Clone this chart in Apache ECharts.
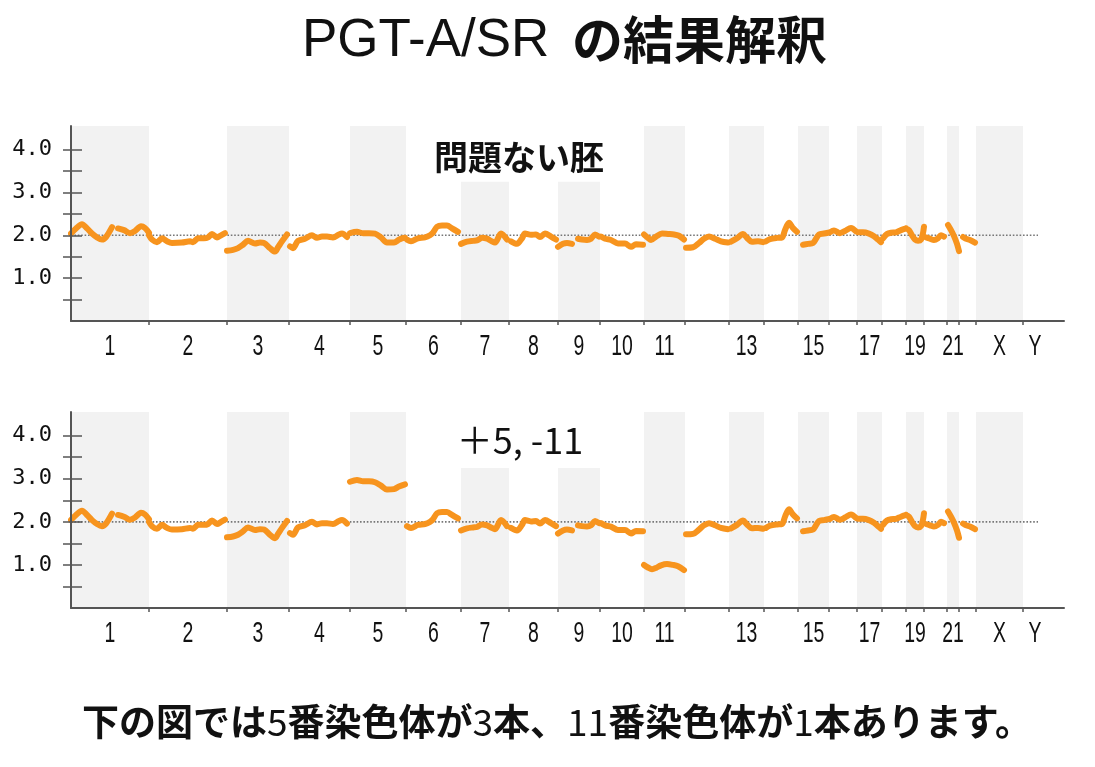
<!DOCTYPE html>
<html>
<head>
<meta charset="utf-8">
<script src="https://cdn.jsdelivr.net/npm/echarts@6/dist/echarts.min.js"></script>
<style>
  html, body { margin: 0; padding: 0; background: #fff; }
  #chart { width: 1095px; height: 767px; }
</style>
</head>
<body>
<div id="chart"></div>
<script>
// ---------- data ----------
const chromNames = ['1','2','3','4','5','6','7','8','9','10','11','12','13','14','15','16','17','18','19','20','21','22','X','Y'];
// relative display length of each chromosome along the genome axis
const chromLengths = [78,78,62,61,56,55,48,49,42,44,41,44,35,34,31,28,25,24,18,23,12,17,47,24];
const genomeAxisMax = 993;
const refLineEnd = 967;
const refLineValue = 2.0;
const labeledChroms = ['1','2','3','4','5','6','7','8','9','10','11','13','15','17','19','21','X','Y'];
const shadedChroms = ['1','3','5','7','9','11','13','15','17','19','21','X'];
const shortBandChroms = ['7','9'];
const shortBandTop = 3.25;
const yMax = 4.55;
const yTickValues = [0.5,1.0,1.5,2.0,2.5,3.0,3.5,4.0];
const yLabelValues = [1,2,3,4];

// copy-number profile, per chromosome: list of segments of [position within chromosome, copy number]
const chr1 = [[[0,2.04],[5,2.16],[11,2.26],[16,2.16],[21,2.04],[26,1.95],[31,1.9],[35,1.96],[41,2.19]],
              [[47,2.16],[53,2.12],[59,2.05],[64,2.1],[70,2.21],[74,2.17],[78,2.06]]];
const chr2 = [[[0,2.0],[3,1.9],[8,1.84],[13,1.93],[18,1.86],[23,1.82],[33,1.83],[41,1.86],[44,1.84],[49,1.93],[55,1.93],[59,1.95],[63,2.03],[68,1.95],[72,2.0],[76,2.05]]];
const chr3 = [[[0,1.64],[6,1.66],[11,1.7],[16,1.78],[21,1.87],[28,1.81],[33,1.83],[37,1.82],[43,1.7],[48,1.62],[51,1.72],[55,1.86],[60,2.02]]];
const chr4 = [[[1,1.74],[4,1.7],[9,1.87],[16,1.92],[23,2.0],[28,1.94],[33,1.97],[38,1.97],[44,1.95],[50,2.02],[53,2.04],[58,1.96]]];
const chr5 = [[[0,2.05],[7,2.08],[13,2.05],[19,2.05],[25,2.04],[31,1.95],[37,1.83],[44,1.83],[49,1.9],[52,1.93],[55,1.94]]];
const chr6 = [[[1,1.9],[5,1.86],[12,1.93],[19,1.95],[24,2.0],[27,2.06],[31,2.2],[36,2.23],[41,2.23],[46,2.16],[52,2.08]]];
const chr7 = [[[0,1.8],[6,1.85],[12,1.87],[16,1.88],[21,1.94],[26,1.92],[30,1.87],[34,1.83],[40,2.04],[46,1.9]]];
const chr8 = [[[2,1.86],[8,1.8],[13,1.93],[16,2.04],[22,2.01],[27,2.02],[31,1.96],[36,2.04],[42,1.97],[47,1.9]]];
const chr9 = [[[0,1.73],[5,1.8],[9,1.82],[14,1.8]],
              [[20,1.92],[24,1.9],[29,1.89],[33,1.92],[37,2.02],[41,1.97]]];
const chr10 = [[[1,1.97],[5,1.92],[11,1.89],[18,1.81],[25,1.81],[31,1.73],[36,1.79],[43,1.78]]];
const chr11 = [[[0,2.02],[4,1.94],[7,1.89],[12,1.97],[18,2.04],[24,2.03],[30,2.02],[35,1.99],[40,1.9]]];
const chr12 = [[[1,1.71],[8,1.72],[14,1.82],[19,1.92],[24,1.97],[30,1.92],[36,1.86],[43,1.83]]];
const chr13 = [[[2,1.85],[8,1.93],[14,2.03],[18,1.94],[23,1.85],[29,1.86],[34,1.84]]];
const chr14 = [[[2,1.86],[6,1.91],[13,1.94],[18,1.95],[21,2.12],[25,2.29],[29,2.17],[33,2.08]]];
const chr15 = [[[5,1.78],[10,1.8],[15,1.82],[18,1.92],[21,2.02],[26,2.04],[30,2.06]]];
const chr16 = [[[1,2.07],[5,2.11],[11,2.05],[16,2.1],[22,2.17],[27,2.09]]];
const chr17 = [[[1,2.07],[6,2.07],[12,2.04],[17,1.98],[21,1.9],[24,1.84]]];
const chr18 = [[[1,1.93],[5,2.03],[9,2.06],[14,2.07],[19,2.12],[24,2.16]]];
const chr19 = [[[0,2.16],[3,2.12],[6,2.0],[9,1.9],[12,1.87],[15,1.9],[17,2.05],[18,2.2]]];
const chr20 = [[[2,1.95],[6,1.92],[10,1.89],[14,1.93],[17,2.0],[20,1.97]]];
const chr21 = [[[1,2.24],[4,2.12],[7,1.98],[10,1.8],[12,1.63]]];
const chr22 = [[[4,1.96],[7,1.92],[11,1.89],[16,1.83]]];
const chrX = [];
const chrY = [];
// aneuploid embryo: trisomy 5 and monosomy 11
const chr5Gain = [[[0,2.93],[7,2.97],[13,2.94],[19,2.94],[25,2.92],[31,2.84],[37,2.75],[44,2.76],[49,2.82],[55,2.87]]];
const chr11Loss = [[[0,1.0],[4,0.94],[8,0.9],[12,0.93],[17,0.99],[23,1.02],[29,1.0],[34,0.97],[40,0.88]]];

const normalProfile = [chr1,chr2,chr3,chr4,chr5,chr6,chr7,chr8,chr9,chr10,chr11,chr12,chr13,chr14,chr15,chr16,chr17,chr18,chr19,chr20,chr21,chr22,chrX,chrY];
const abnormalProfile = [chr1,chr2,chr3,chr4,chr5Gain,chr6,chr7,chr8,chr9,chr10,chr11Loss,chr12,chr13,chr14,chr15,chr16,chr17,chr18,chr19,chr20,chr21,chr22,chrX,chrY];

const titleLatin = 'PGT-A/SR';
const titleJa = 'の結果解釈';
const panelLabels = ['問題ない胚', '＋5, -11'];
const footnote = '下の図では5番染色体が3本、11番染色体が1本あります。';

// ---------- derived ----------
const chromStarts = [];
let acc = 0;
chromLengths.forEach(l => { chromStarts.push(acc); acc += l; });
const chromEnds = chromStarts.map((s, i) => s + chromLengths[i]);
const boundaryTicks = chromEnds.slice(0, chromEnds.length - 1);
const labelCenters = labeledChroms.map(n => { const i = chromNames.indexOf(n); return chromStarts[i] + chromLengths[i] / 2; });

function buildLine(profile) {
  const out = [];
  profile.forEach((segs, i) => {
    segs.forEach(seg => {
      seg.forEach(p => out.push([chromStarts[i] + p[0], p[1]]));
      out.push([chromStarts[i] + seg[seg.length - 1][0] + 0.5, '-']);
    });
  });
  return out;
}

const bands = shadedChroms.map(n => {
  const i = chromNames.indexOf(n);
  const top = shortBandChroms.indexOf(n) >= 0 ? shortBandTop : yMax;
  return [{ xAxis: chromStarts[i], yAxis: 0 }, { xAxis: chromEnds[i], yAxis: top }];
});

const axisColor = '#555';
const grids = [
  { left: 71, top: 126, width: 993, height: 195 },
  { left: 71, top: 412, width: 993, height: 196 }
];

const xAxes = [], yAxes = [], series = [];
[normalProfile, abnormalProfile].forEach((profile, g) => {
  xAxes.push({
    type: 'value', gridIndex: g, min: 0, max: genomeAxisMax, z: 10,
    axisLine: { show: true, lineStyle: { color: axisColor, width: 2 } },
    axisTick: { show: true, customValues: boundaryTicks, length: 4, lineStyle: { color: axisColor, width: 1.5 } },
    axisLabel: { show: false },
    splitLine: { show: false }
  });
  yAxes.push({
    type: 'value', gridIndex: g, min: 0, max: yMax, z: 10,
    axisLine: { show: true, lineStyle: { color: axisColor, width: 2 } },
    axisTick: { show: true, customValues: yTickValues, length: 8, lineStyle: { color: axisColor, width: 1.5 } },
    axisLabel: { show: true, customValues: yLabelValues, formatter: v => v.toFixed(1), margin: 19,
      color: '#111', fontSize: 22, fontFamily: "'DejaVu Sans Mono', 'Liberation Mono', monospace" },
    splitLine: { show: false }
  });
  yAxes.push({
    type: 'value', gridIndex: g, min: 0, max: yMax, position: 'left', z: 10,
    axisLine: { show: false },
    axisTick: { show: true, inside: true, customValues: yTickValues, length: 11, lineStyle: { color: axisColor, width: 1.5 } },
    axisLabel: { show: false },
    splitLine: { show: false }
  });
  series.push({
    type: 'line', xAxisIndex: g, yAxisIndex: g * 2, z: 2,
    data: [[0, refLineValue], [refLineEnd, refLineValue]],
    symbol: 'none', silent: true,
    lineStyle: { color: '#777', width: 1.6, type: [1.6, 1.8] },
    markArea: { silent: true, itemStyle: { color: '#F2F2F2' }, data: bands }
  });
  series.push({
    type: 'line', xAxisIndex: g, yAxisIndex: g * 2, z: 3,
    data: buildLine(profile),
    symbol: 'none', silent: true, smooth: 0.3, connectNulls: false,
    lineStyle: { color: '#F7941E', width: 6, cap: 'round', join: 'round' }
  });
  // chromosome names under the genome axis (narrow lettering)
  series.push({
    type: 'custom', xAxisIndex: g, yAxisIndex: g * 2, silent: true, clip: false, z: 4,
    data: labelCenters.map((c, k) => [c, 0, k]),
    renderItem: (params, api) => {
      const p = api.coord([api.value(0), 0]);
      return {
        type: 'text', x: p[0], y: p[1] + 26, scaleX: 0.67,
        style: { text: labeledChroms[api.value(2)], align: 'center', verticalAlign: 'middle',
          fontSize: 29, fontFamily: "'Liberation Sans', Arial, sans-serif", fill: '#111' }
      };
    }
  });
});

const footRich = footnote.replace(/(\d+)/g, '{d|$1}');

const chart = echarts.init(document.getElementById('chart'));
chart.setOption({
  animation: false,
  backgroundColor: '#fff',
  grid: grids,
  xAxis: xAxes,
  yAxis: yAxes,
  series: series,
  graphic: [
    { type: 'text', x: 302, y: 41, style: { text: titleLatin, align: 'left', verticalAlign: 'middle',
        fontSize: 53, fontFamily: "'Liberation Sans', Arial, sans-serif", fontWeight: 'normal', fill: '#111' } },
    { type: 'text', x: 572, y: 40, style: { text: titleJa, align: 'left', verticalAlign: 'middle',
        fontSize: 51, fontFamily: "'Noto Sans CJK JP', sans-serif", fontWeight: 'bold', fill: '#111' } },
    { type: 'text', x: 519, y: 157, style: { text: panelLabels[0], align: 'center', verticalAlign: 'middle',
        fontSize: 34, fontWeight: 'bold', fontFamily: "'Noto Sans CJK JP', sans-serif", fill: '#111' } },
    { type: 'text', x: 520, y: 440, style: { text: panelLabels[1], align: 'center', verticalAlign: 'middle',
        fontSize: 36, fontWeight: 'normal', fontFamily: "'Noto Sans CJK JP', sans-serif", fill: '#111' } },
    { type: 'text', x: 557, y: 722, style: { text: footRich, align: 'center', verticalAlign: 'middle',
        fontSize: 37, fontWeight: 'bold', fontFamily: "'Noto Sans CJK JP', sans-serif", fill: '#111',
        rich: { d: { fontSize: 37, fontWeight: 'normal', fontFamily: "'Noto Sans CJK JP', sans-serif", fill: '#111' } } } }
  ]
});
</script>
</body>
</html>
